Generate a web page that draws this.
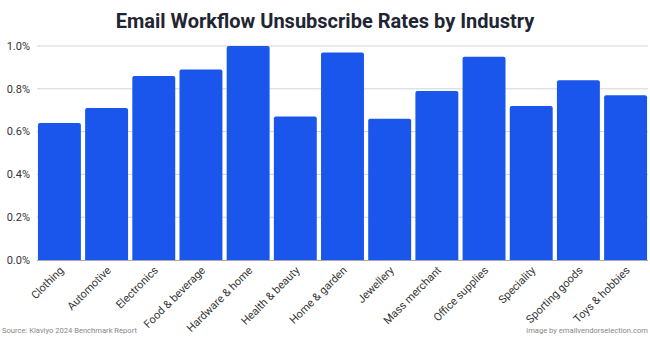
<!DOCTYPE html>
<html lang="en">
  <head>
    <meta charset="UTF-8" />
    <title>Email Workflow Unsubscribe Rates by Industry</title>
    <script src="https://d3js.org/d3.v7.min.js"></script>
    <style>
      body {
        margin: 0;
        background: #fff;
        font-family: Roboto, "Noto Sans", sans-serif;
      }
      .grid line {
        stroke: #d4d4d4;
      }
      .axis text {
        fill: #333;
        font-size: 11px;
      }
    </style>
  </head>
  <body>
    <div id="chart"></div>
    <script>
      const industries = [
        "Clothing",
        "Automotive",
        "Electronics",
        "Food & beverage",
        "Hardware & home",
        "Health & beauty",
        "Home & garden",
        "Jewellery",
        "Mass merchant",
        "Office supplies",
        "Speciality",
        "Sporting goods",
        "Toys & hobbies",
      ];
      const rates = [0.64, 0.71, 0.86, 0.89, 1.0, 0.67, 0.97, 0.66, 0.79, 0.95, 0.72, 0.84, 0.77];
      const yTicks = [0, 0.2, 0.4, 0.6, 0.8, 1.0];

      const width = 650,
        height = 337;
      const margin = { top: 46, right: 2, bottom: 77, left: 37 };

      const svg = d3
        .select("#chart")
        .append("svg")
        .attr("width", width)
        .attr("height", height);

      const x = d3
        .scaleBand()
        .domain(industries)
        .range([margin.left, width - margin.right])
        .paddingInner(0.09)
        .paddingOuter(0.02);

      const y = d3
        .scaleLinear()
        .domain([0, 1])
        .range([height - margin.bottom, margin.top]);

      // title
      svg
        .append("text")
        .attr("x", width / 2)
        .attr("y", 28)
        .attr("text-anchor", "middle")
        .style("font-size", "20px")
        .style("font-weight", "bold")
        .style("fill", "#1f2633")
        .text("Email Workflow Unsubscribe Rates by Industry");

      // gridlines
      svg
        .append("g")
        .attr("class", "grid")
        .selectAll("line")
        .data(yTicks.filter((d) => d > 0))
        .join("line")
        .attr("x1", margin.left)
        .attr("x2", width - margin.right)
        .attr("y1", (d) => y(d))
        .attr("y2", (d) => y(d));

      // y labels
      svg
        .append("g")
        .attr("class", "axis")
        .selectAll("text")
        .data(yTicks)
        .join("text")
        .attr("x", margin.left - 7)
        .attr("y", (d) => y(d))
        .attr("dy", "0.35em")
        .attr("text-anchor", "end")
        .text((d) => d.toFixed(1) + "%");

      // bars with rounded top
      const r = 2;
      svg
        .append("g")
        .selectAll("path")
        .data(industries)
        .join("path")
        .attr("fill", "#1a56eb")
        .attr("d", (d, i) => {
          const x0 = x(d),
            w = x.bandwidth(),
            y0 = y(rates[i]),
            yb = y(0);
          return `M${x0},${yb}V${y0 + r}Q${x0},${y0} ${x0 + r},${y0}H${x0 + w - r}Q${x0 + w},${y0} ${x0 + w},${y0 + r}V${yb}Z`;
        });

      // baseline
      svg
        .append("line")
        .attr("x1", margin.left)
        .attr("x2", width - margin.right)
        .attr("y1", y(0) + 0.5)
        .attr("y2", y(0) + 0.5)
        .attr("stroke", "#aaa");

      // x labels
      svg
        .append("g")
        .attr("class", "axis")
        .selectAll("text")
        .data(industries)
        .join("text")
        .attr("text-anchor", "end")
        .attr(
          "transform",
          (d) => `translate(${x(d) + x.bandwidth() / 2 + 5},${y(0) + 11}) rotate(-45)`
        )
        .text((d) => d);

      // footer
      svg
        .append("text")
        .attr("x", 2)
        .attr("y", 333)
        .style("font-size", "7.6px")
        .style("fill", "#888")
        .text("Source: Klaviyo 2024 Benchmark Report");

      svg
        .append("text")
        .attr("x", width - 2)
        .attr("y", 333)
        .attr("text-anchor", "end")
        .style("font-size", "7.6px")
        .style("fill", "#888")
        .text("image by emailvendorselection.com");
    </script>
  </body>
</html>
